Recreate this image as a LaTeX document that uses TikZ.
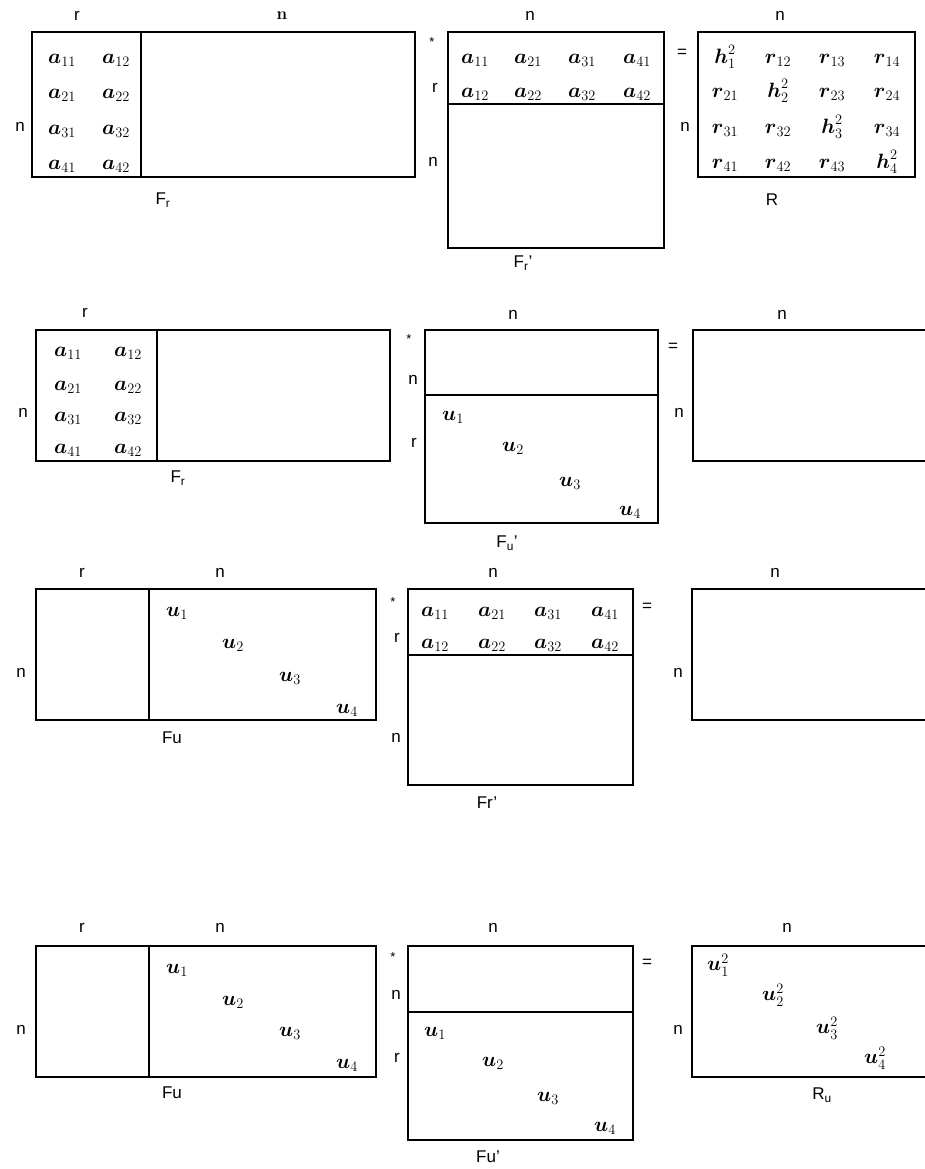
\documentclass[tikz,border=0pt]{standalone}
\usepackage{amsmath}
\usepackage{amssymb}
\usepackage{fontspec}
\setsansfont{Liberation Sans}
\usepackage{tikz}
\usetikzlibrary{positioning}

\newcommand{\entA}[1]{\boldsymbol{a}_{#1}}
\newcommand{\entR}[1]{\boldsymbol{r}_{#1}}
\newcommand{\entH}[1]{\boldsymbol{h}_{#1}^{2}}
\newcommand{\entU}[1]{\boldsymbol{u}_{#1}}
\newcommand{\entUU}[1]{\boldsymbol{u}_{#1}^{2}}

\begin{document}
\begin{tikzpicture}[
    x=1pt,y=-1pt,
    mat/.style={draw, line width=1.3pt},
    dim/.style={
        font=\sffamily\fontsize{17}{17}\selectfont,
        inner sep=0pt
    },
    ent/.style={
        font=\fontsize{22}{22}\selectfont,
        inner sep=0pt
    },
    op/.style={
        font=\sffamily\fontsize{17}{17}\selectfont,
        inner sep=0pt
    },
    star/.style={
        font=\sffamily\fontsize{13}{13}\selectfont,
        inner sep=0pt
    }
]
\useasboundingbox (0,0) rectangle (924,1169);

% --- Row 1: Fr * Fr' = R ---
\draw[mat] (32,32) rectangle (415,177);
\draw[mat] (141,32) -- (141,177);
\node[dim] (ra) at (77,16) {r};
\node[dim] (na) at (282,16) {\rmfamily\bfseries n};
\node[dim] (nla) at (20,127) {n};
\foreach \i/\y in {1/60,2/95,3/131,4/166} {
    \node[ent] (fra-\i1) at (62,\y) {$\entA{\i1}$};
    \node[ent] (fra-\i2) at (116,\y) {$\entA{\i2}$};
}
\node[dim] (lfra) at (163,200) {F\textsubscript{r}};

\node[star] (mula) at (432,42) {*};

\draw[mat] (448,32) rectangle (664,248);
\draw[mat] (448,104) -- (664,104);
\node[dim] (ntra) at (530,16) {n};
\node[dim] (rtra) at (435,88) {r};
\node[dim] (ntla) at (433,162) {n};
\foreach \i/\x in {1/475,2/528,3/582,4/637} {
    \node[ent] (fta-1\i) at (\x,60) {$\entA{\i1}$};
    \node[ent] (fta-2\i) at (\x,94) {$\entA{\i2}$};
}
\node[dim] (lfta) at (523,263) {F\textsubscript{r}'};

\node[op] (eqa) at (682,53) {=};

\draw[mat] (698,32) rectangle (915,177);
\node[dim] (nra) at (780,16) {n};
\node[dim] (nrla) at (685,127) {n};
\foreach \i/\y in {1/60,2/94,3/130,4/165}
  \foreach \j/\x in {1/725,2/778,3/832,4/887} {
    \ifnum\i=\j
      \node[ent] (ra-\i\j) at (\x,\y-3) {$\entH{\i}$};
    \else
      \node[ent] (ra-\i\j) at (\x,\y) {$\entR{\i\j}$};
    \fi
  }
\node[dim] (lra) at (772,200) {R};

% --- Row 2: Fr * Fu' ---
\draw[mat] (36,330) rectangle (390,461);
\draw[mat] (157,330) -- (157,461);
\node[dim] (rb) at (85,313) {r};
\node[dim] (nlb) at (23,413) {n};
\foreach \i/\y in {1/353,2/387,3/418,4/450} {
    \node[ent] (frb-\i1) at (68,\y) {$\entA{\i1}$};
    \node[ent] (frb-\i2) at (128,\y) {$\entA{\i2}$};
}
\node[dim] (lfrb) at (178,478) {F\textsubscript{r}};

\node[star] (mulb) at (409,339) {*};
\node[dim] (ntlb) at (413,380) {n};
\node[dim] (rtlb) at (414,443) {r};

\draw[mat] (425,330) rectangle (658,523);
\draw[mat] (425,395) -- (658,395);
\node[dim] (ntb) at (513,315) {n};
\foreach \i/\x/\y in {1/453/417,2/513/448,3/570/483,4/630/512}
    \node[ent] (fub-\i) at (\x,\y) {$\entU{\i}$};
\node[dim] (lfub) at (507,543) {F\textsubscript{u}'};

\node[op] (eqb) at (673,347) {=};

\draw[mat] (930,330) -- (693,330) -- (693,461) -- (930,461);
\node[dim] (nrb) at (782,315) {n};
\node[dim] (nrlb) at (679,413) {n};

% --- Row 3: Fu * Fr' ---
\draw[mat] (36,589) rectangle (376,720);
\draw[mat] (149,589) -- (149,720);
\node[dim] (rc) at (82,573) {r};
\node[dim] (nc) at (220,573) {n};
\node[dim] (nlc) at (21,673) {n};
\foreach \i/\x/\y in {1/177/613,2/233/645,3/290/678,4/347/710}
    \node[ent] (fuc-\i) at (\x,\y) {$\entU{\i}$};
\node[dim] (lfuc) at (172,738) {Fu};

\node[star] (mulc) at (393,602) {*};
\node[dim] (rtlc) at (397,638) {r};
\node[dim] (ntlc) at (396,738) {n};

\draw[mat] (408,589) rectangle (633,785);
\draw[mat] (408,655) -- (633,655);
\node[dim] (ntc) at (493,573) {n};
\foreach \i/\x in {1/435,2/492,3/548,4/605} {
    \node[ent] (ftc-1\i) at (\x,613) {$\entA{\i1}$};
    \node[ent] (ftc-2\i) at (\x,645) {$\entA{\i2}$};
}
\node[dim] (lftc) at (487,803) {Fr'};

\node[op] (eqc) at (647,607) {=};

\draw[mat] (930,589) -- (692,589) -- (692,720) -- (930,720);
\node[dim] (nrc) at (775,573) {n};
\node[dim] (nrlc) at (678,673) {n};

% --- Row 4: Fu * Fu' = Ru ---
\draw[mat] (36,946) rectangle (376,1077);
\draw[mat] (149,946) -- (149,1077);
\node[dim] (rd) at (82,928) {r};
\node[dim] (nd) at (220,928) {n};
\node[dim] (nld) at (21,1030) {n};
\foreach \i/\x/\y in {1/177/970,2/233/1002,3/290/1033,4/347/1065}
    \node[ent] (fud-\i) at (\x,\y) {$\entU{\i}$};
\node[dim] (lfud) at (172,1093) {Fu};

\node[star] (muld) at (393,957) {*};
\node[dim] (ntld) at (396,995) {n};
\node[dim] (rtld) at (397,1058) {r};

\draw[mat] (408,946) rectangle (633,1140);
\draw[mat] (408,1012) -- (633,1012);
\node[dim] (ntd) at (493,928) {n};
\foreach \i/\x/\y in {1/435/1033,2/493/1063,3/548/1098,4/605/1128}
    \node[ent] (ftd-\i) at (\x,\y) {$\entU{\i}$};
\node[dim] (lftd) at (488,1157) {Fu'};

\node[op] (eqd) at (647,963) {=};

\draw[mat] (930,946) -- (692,946) -- (692,1077) -- (930,1077);
\node[dim] (nrd) at (787,928) {n};
\node[dim] (nrld) at (678,1030) {n};
\foreach \i/\x/\y in {1/718/965,2/773/995,3/827/1028,4/875/1058}
    \node[ent] (rud-\i) at (\x,\y) {$\entUU{\i}$};
\node[dim] (lrud) at (822,1095) {R\textsubscript{u}};

\end{tikzpicture}
\end{document}
